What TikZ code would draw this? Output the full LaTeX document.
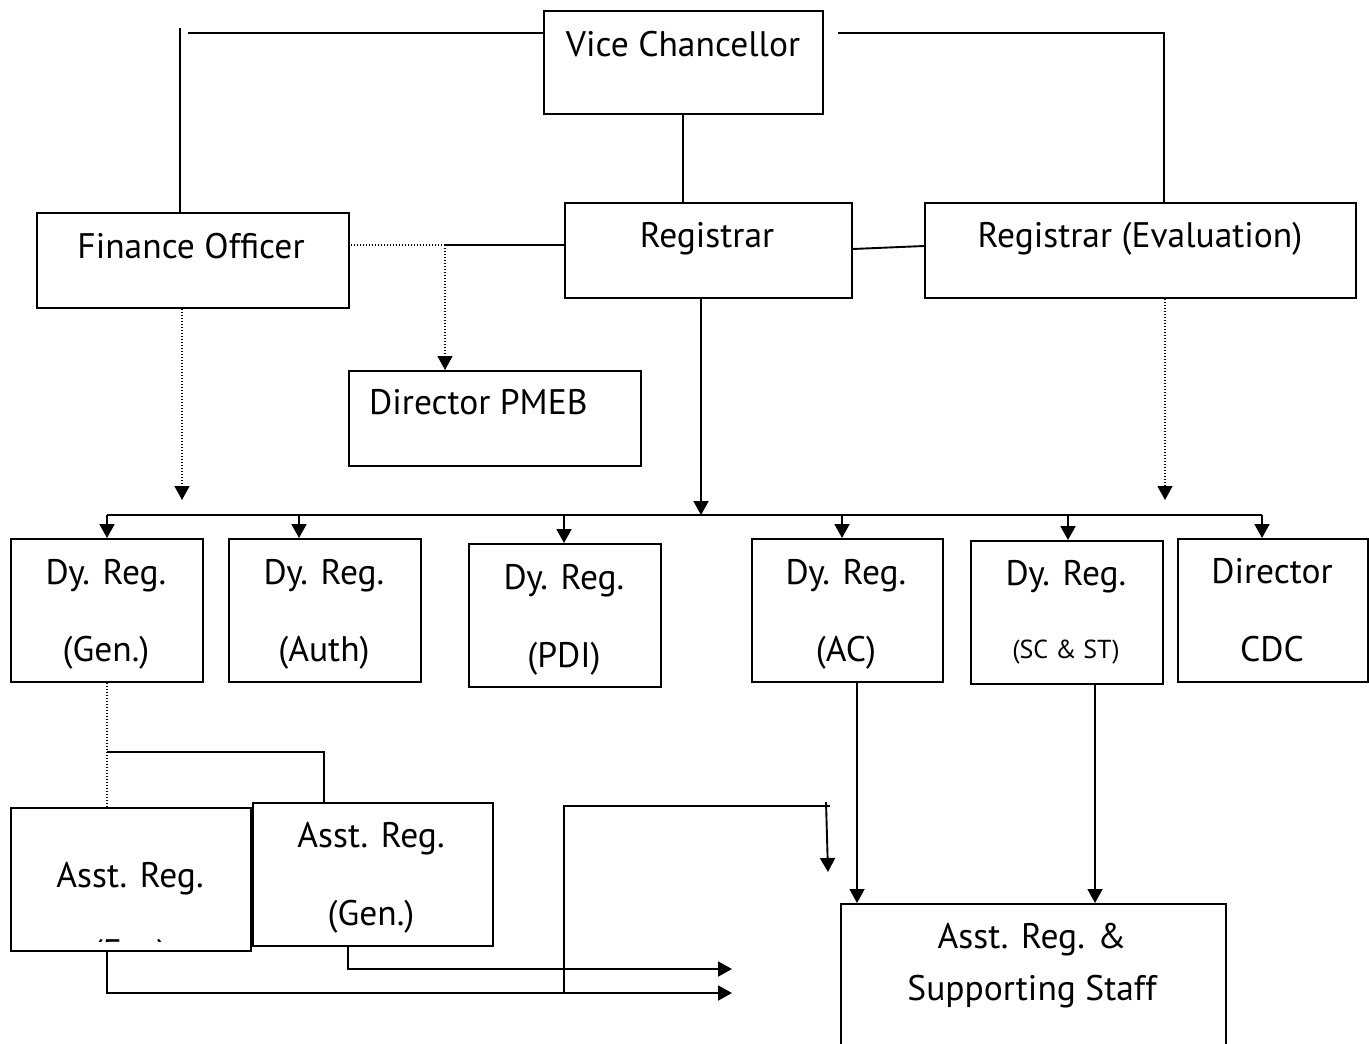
\documentclass[tikz,border=0pt]{standalone}
\usepackage{fontspec}
\setmainfont{PT Sans}
\usetikzlibrary{arrows.meta}
\tikzset{
  box/.style={draw, line width=1.9pt, inner sep=0pt, anchor=north west},
  lbl/.style={inner sep=0pt, anchor=base, font=\fontsize{35.5}{38}\selectfont},
  lblw/.style={lbl, anchor=base west},
  sml/.style={inner sep=0pt, anchor=base, font=\fontsize{26}{28}\selectfont},
  conn/.style={line width=1.9pt},
  dotline/.style={line width=1.3pt, dash pattern=on 1.4pt off 1.6pt},
  arr/.style={-{Triangle[length=14pt,width=15pt]}},
}
\begin{document}
\begin{tikzpicture}[x=1pt,y=-1pt]
\useasboundingbox[fill=white] (0,0) rectangle (1369,1044);
% boxes
\node[box, minimum width=279, minimum height=103] (vc) at (543,10) {};
\node[box, minimum width=312, minimum height=95] (fo) at (36,212) {};
\node[box, minimum width=287, minimum height=95] (reg) at (564,202) {};
\node[box, minimum width=431, minimum height=95] (rege) at (924,202) {};
\node[box, minimum width=292, minimum height=95] (pmeb) at (348,370) {};
\node[box, minimum width=192, minimum height=143] (dg) at (10,538) {};
\node[box, minimum width=192, minimum height=143] (da) at (228,538) {};
\node[box, minimum width=192, minimum height=143] (dp) at (468,543) {};
\node[box, minimum width=191, minimum height=143] (dac) at (751,538) {};
\node[box, minimum width=192, minimum height=143] (dsc) at (970,540) {};
\node[box, minimum width=190, minimum height=143] (cdc) at (1177,538) {};
\node[box, minimum width=240, minimum height=143] (ae) at (10,807) {};
\node[box, minimum width=240, minimum height=143] (ag) at (252,802) {};
\node[box, minimum width=385, minimum height=170] (ast) at (840,903) {};
% texts
\node[lbl] (vct) at (683,56) {Vice Chancellor};
\node[lbl] (fot) at (191,258) {Finance Officer};
\node[lbl] (regt) at (707,247) {Registrar};
\node[lbl] (reget) at (1140,247) {Registrar (Evaluation)};
\node[lblw] (pmebt) at (369,414) {Director PMEB};
\node[lbl] (dg1) at (106,584) {Dy. Reg.};
\node[lbl] (dg2) at (106,661) {(Gen.)};
\node[lbl] (da1) at (324,584) {Dy. Reg.};
\node[lbl] (da2) at (324,661) {(Auth)};
\node[lbl] (dp1) at (564,589) {Dy. Reg.};
\node[lbl] (dp2) at (564,667) {(PDI)};
\node[lbl] (dac1) at (846,584) {Dy. Reg.};
\node[lbl] (dac2) at (846,661) {(AC)};
\node[lbl] (dsc1) at (1066,585) {Dy. Reg.};
\node[sml] (dsc2) at (1066,658) {(SC \& ST)};
\node[lbl] (cdc1) at (1272,583) {Director};
\node[lbl] (cdc2) at (1272,661) {CDC};
\node[lbl] (ae1) at (130,887) {Asst. Reg.};
\begin{scope}
  \clip (12,809) rectangle (248,941.5);
  \node[lbl] (ae2) at (130,964) {(Est.)};
\end{scope}
\node[lbl] (ag1) at (371,847) {Asst. Reg.};
\node[lbl] (ag2) at (371,925) {(Gen.)};
\node[lbl] (ast1) at (1032,948) {Asst. Reg. \&};
\node[lbl] (ast2) at (1032,1000) {Supporting Staff};
% coordinates
\coordinate (vl) at (188,33);
\coordinate (vr) at (838,33);
\coordinate (split) at (445,245);
\coordinate (bus) at (701,515);
\coordinate (busl) at (107,515);
\coordinate (busr) at (1262,515);
\coordinate (foend) at (182,500);
\coordinate (reend) at (1165,500);
\coordinate (endA) at (732,969);
\coordinate (endB) at (732,993);
\coordinate (loopend) at (828,872);
% top connectors
\draw[conn] (vc.west |- vl) -- (vl);
\draw[conn] (180,28) -- (180,33) -- (fo.north -| 180,0);
\draw[conn] (vr) -- (1164,33) -- (1164,0 |- rege.north);
\draw[conn] (vc.south -| 683,0) -- (683,0 |- reg.north);
\draw[conn] (reg.east |- 0,249) -- (rege.west |- 0,246);
\draw[conn] (reg.west |- split) -- (split);
\draw[dotline] (split) -- (fo.east |- split);
\draw[dotline, arr] (split) -- (split |- pmeb.north);
\draw[dotline, arr] (fo.south -| foend) -- (foend);
\draw[dotline, arr] (rege.south -| reend) -- (reend);
\draw[conn, arr] (reg.south -| bus) -- (bus);
\draw[conn] (busl) -- (busr);
\draw[conn, arr] (busl) -- (busl |- dg.north);
\draw[conn, arr] (299,515) -- (299,0 |- da.north);
\draw[conn, arr] (564,515) -- (564,0 |- dp.north);
\draw[conn, arr] (842,515) -- (842,0 |- dac.north);
\draw[conn, arr] (1068,515) -- (1068,0 |- dsc.north);
\draw[conn, arr] (busr) -- (busr |- cdc.north);
% lower connectors
\draw[dotline] (dg.south -| 107,0) -- (107,0 |- ae.north);
\draw[conn] (107,752) -- (324,752) -- (324,0 |- ag.north);
\draw[conn, arr] (ae.south -| 107,0) -- (107,993) -- (endB);
\draw[conn, arr] (ag.south -| 348,0) -- (348,969) -- (endA);
\draw[conn] (564,993) -- (564,806) -- (830,806);
\draw[conn, arr] (826,802) -- (loopend);
\draw[conn, arr] (dac.south -| 857,0) -- (857,0 |- ast.north);
\draw[conn, arr] (dsc.south -| 1095,0) -- (1095,0 |- ast.north);
\end{tikzpicture}
\end{document}
